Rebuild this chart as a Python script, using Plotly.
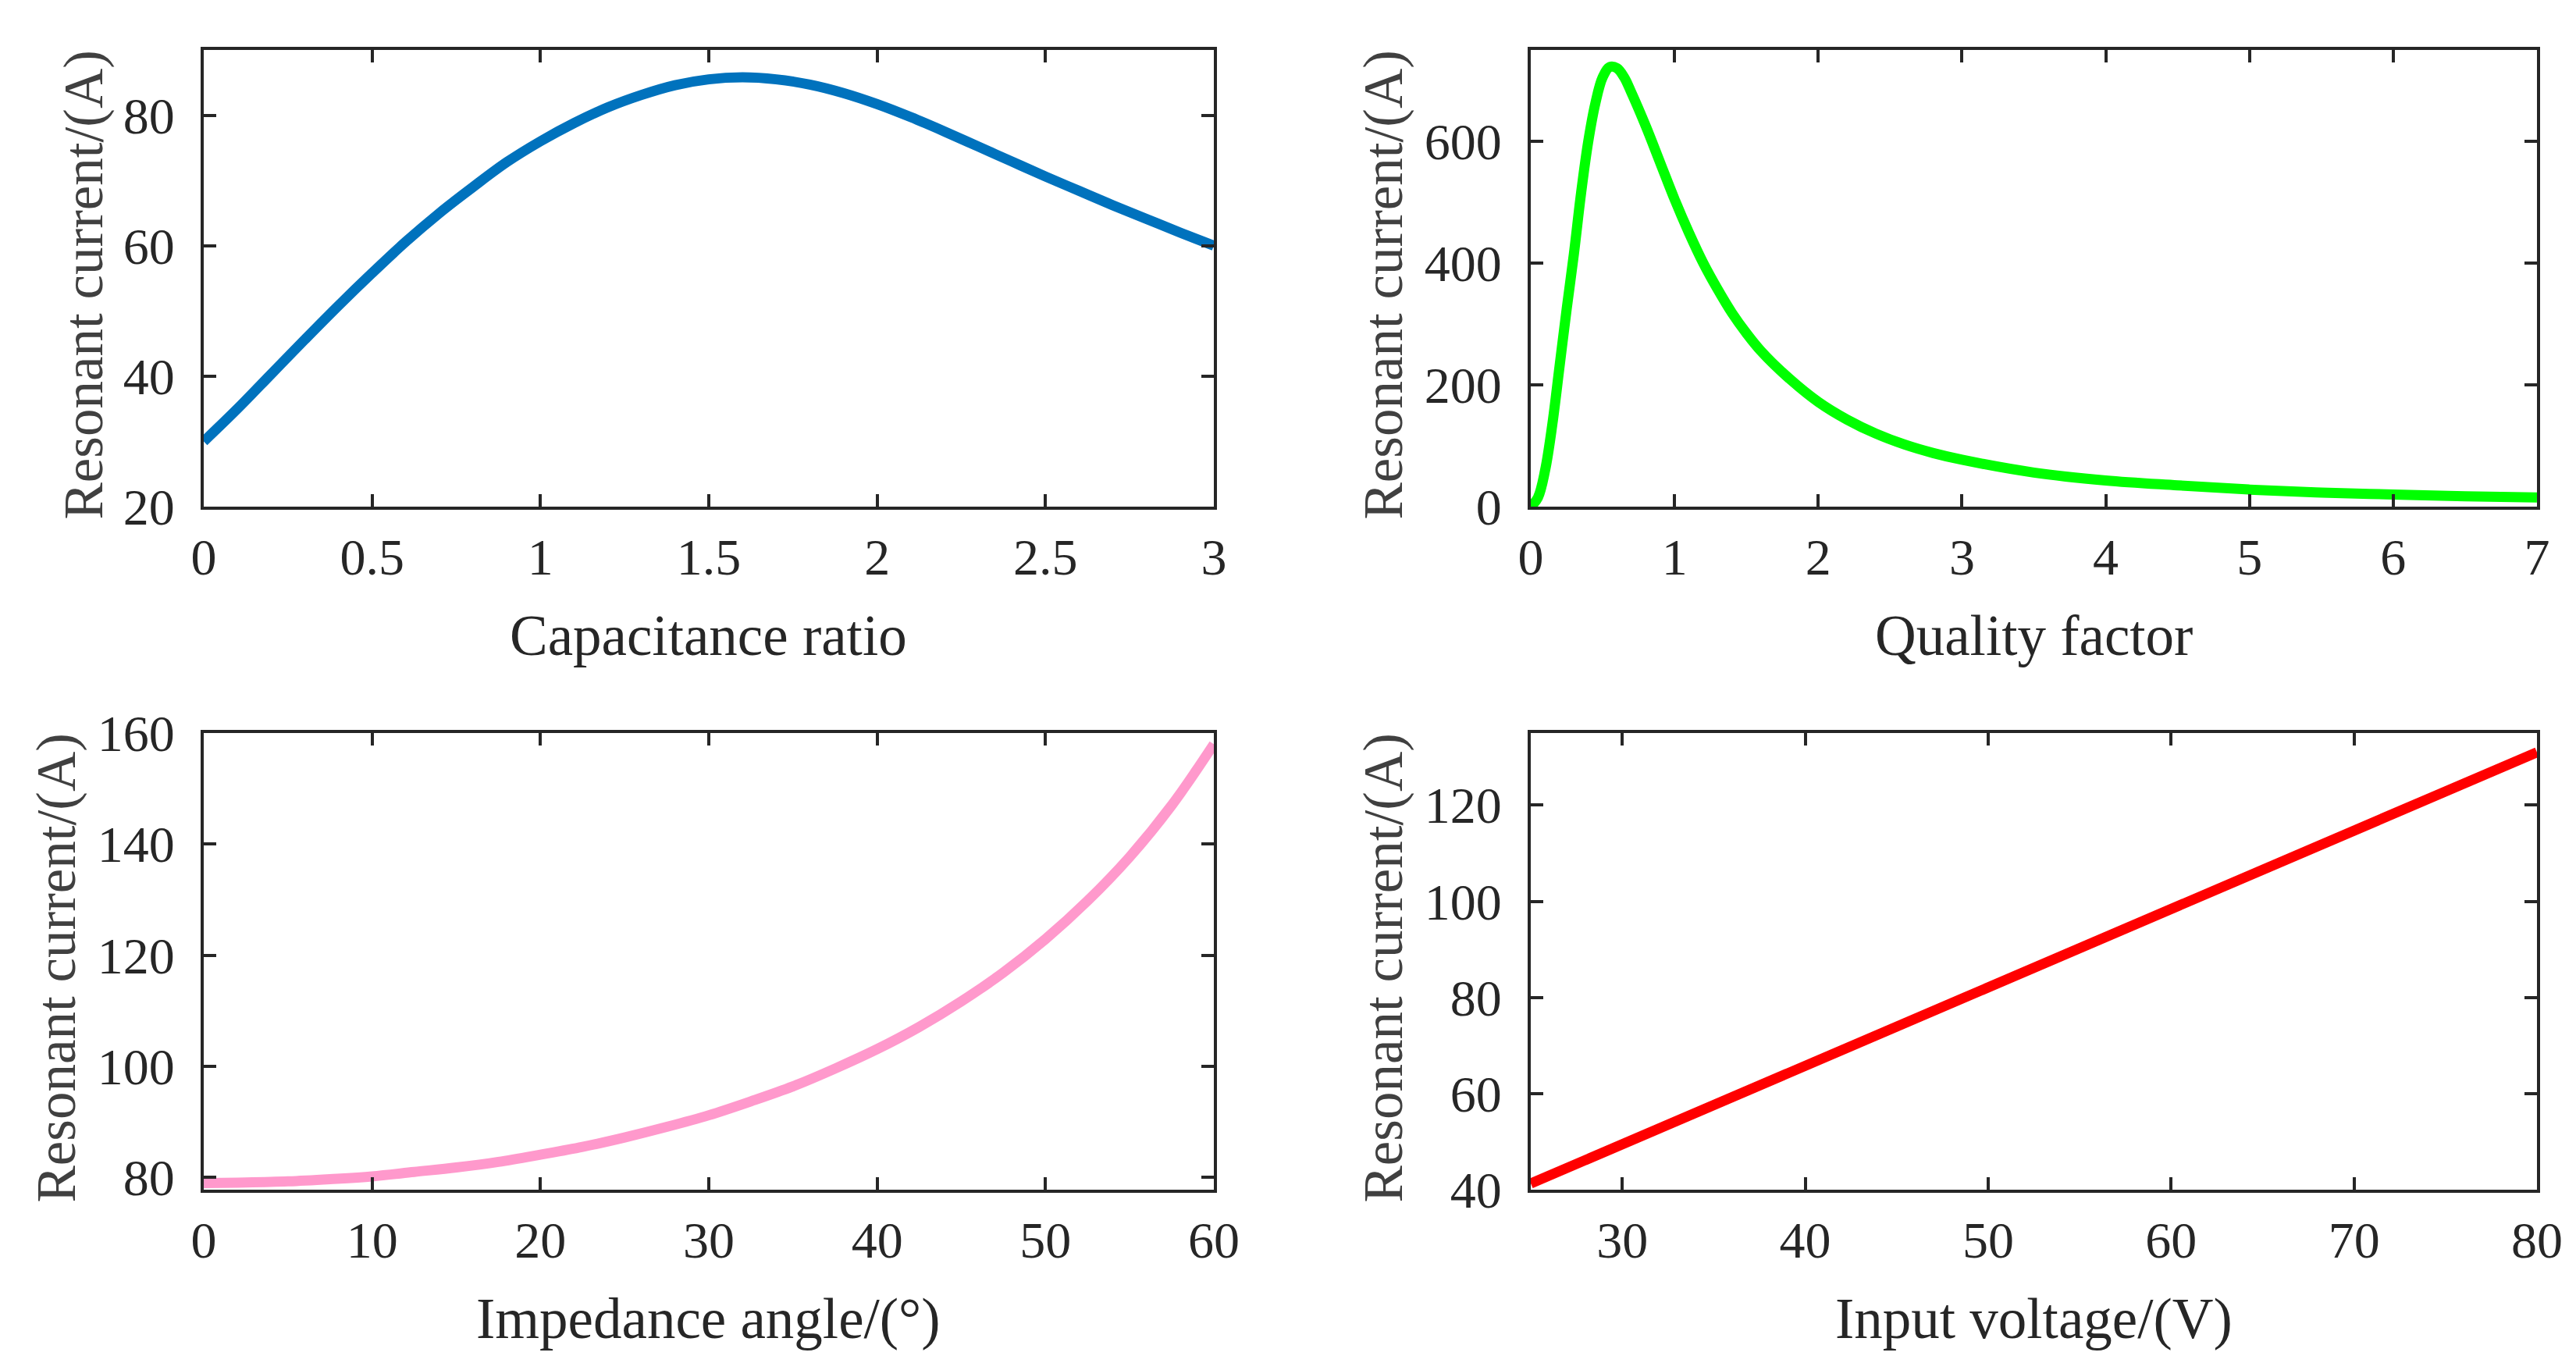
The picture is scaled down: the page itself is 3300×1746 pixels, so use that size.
import plotly.graph_objects as go
from plotly.subplots import make_subplots

# ▶ data
cap_ratio = [0.0, 0.1, 0.2, 0.3, 0.4, 0.5, 0.6, 0.7, 0.8, 0.9, 1.0,
             1.1, 1.2, 1.3, 1.4, 1.5, 1.6, 1.7, 1.8, 1.9, 2.0,
             2.1, 2.2, 2.3, 2.4, 2.5, 2.6, 2.7, 2.8, 2.9, 3.0]
current_cap = [30.0, 35.0, 40.3, 45.6, 50.8, 55.8, 60.6, 65.0, 69.0, 72.8, 76.0,
               78.8, 81.2, 83.1, 84.6, 85.5, 85.8, 85.5, 84.7, 83.4, 81.7,
               79.7, 77.5, 75.2, 72.9, 70.6, 68.4, 66.2, 64.1, 62.0, 60.0]

quality = [0, 0.05, 0.1, 0.15, 0.2, 0.25, 0.3, 0.35, 0.4, 0.45, 0.5, 0.55,
           0.6, 0.65, 0.7, 0.8, 0.9, 1.0, 1.1, 1.2, 1.3, 1.4, 1.5, 1.6,
           1.8, 2.0, 2.2, 2.4, 2.6, 2.8, 3.0, 3.5, 4.0, 4.5, 5.0, 5.5,
           6.0, 6.5, 7.0]
current_q = [0, 15, 60, 135, 230, 325, 415, 515, 600, 663, 705, 722,
             720, 705, 680, 625, 565, 505, 450, 400, 357, 318, 285, 256,
             210, 172, 143, 120, 102, 88, 77, 56, 43, 35, 28, 23,
             20, 17, 15]

angle = [0, 2.5, 5, 7.5, 10, 12.5, 15, 17.5, 20, 22.5, 25, 27.5, 30,
         32.5, 35, 37.5, 40, 42.5, 45, 47.5, 50, 52.5, 55, 57.5, 60]
current_angle = [79.0, 79.1, 79.3, 79.7, 80.2, 81.0, 81.8, 82.8, 84.1, 85.5,
                 87.2, 89.1, 91.2, 93.7, 96.4, 99.6, 103.1, 107.1, 111.7,
                 116.9, 122.9, 129.8, 137.7, 147.0, 158.0]

voltage = [25, 30, 40, 50, 60, 70, 80]
current_v = [41.3, 49.5, 65.8, 82.1, 98.4, 114.7, 131.0]

W, H = 3300, 1746
FONT = "Liberation Serif, Times New Roman, serif"
AX = "#262626"

fig = make_subplots(rows=2, cols=2)

fig.add_trace(go.Scatter(x=cap_ratio, y=current_cap, mode="lines",
                         line=dict(color="#0072BD", width=13, shape="spline")), row=1, col=1)
fig.add_trace(go.Scatter(x=quality, y=current_q, mode="lines",
                         line=dict(color="#00FF00", width=13, shape="spline")), row=1, col=2)
fig.add_trace(go.Scatter(x=angle, y=current_angle, mode="lines",
                         line=dict(color="#FF99CC", width=13, shape="spline")), row=2, col=1)
fig.add_trace(go.Scatter(x=voltage, y=current_v, mode="lines",
                         line=dict(color="#FF0000", width=13)), row=2, col=2)

# panel boxes in pixels: (left, right, top, bottom)
boxes = [(253, 1547, 56, 641), (1953, 3242, 56, 641),
         (253, 1547, 931, 1516), (1953, 3242, 931, 1516)]
ytitle_gap = [154, 189, 189, 189]
xr = [[0, 3], [0, 7], [0, 60], [25, 80]]
yr = [[20, 90], [0, 750], [77.8, 160], [40, 135]]
xt = [[0, 0.5, 1, 1.5, 2, 2.5, 3], list(range(0, 8)), list(range(0, 61, 10)), list(range(30, 81, 10))]
yt = [[20, 40, 60, 80], [0, 200, 400, 600], list(range(80, 161, 20)), list(range(40, 121, 20))]
xtitles = ["Capacitance ratio", "Quality factor", "Impedance angle/(°)", "Input voltage/(V)"]

axis_style = dict(showline=True, mirror="ticks", linecolor=AX, linewidth=4,
                  ticks="inside", ticklen=16, tickwidth=4, tickcolor=AX,
                  showgrid=False, zeroline=False, automargin=False,
                  tickfont=dict(family=FONT, size=66, color=AX))

for i, (l, r, t, b) in enumerate(boxes):
    n = "" if i == 0 else str(i + 1)
    fig.layout["xaxis" + n].update(domain=[l / W, r / W], range=xr[i], tickvals=xt[i],
                                   ticklabelstandoff=4, **axis_style)
    fig.layout["yaxis" + n].update(domain=[1 - b / H, 1 - t / H], range=yr[i], tickvals=yt[i],
                                   ticklabelstandoff=20, **axis_style)
    fig.add_annotation(text=xtitles[i], xref="paper", yref="paper",
                       x=(l + r) / 2 / W, y=1 - (b + 165) / H,
                       showarrow=False, xanchor="center", yanchor="middle",
                       font=dict(family=FONT, size=73, color=AX))
    fig.add_annotation(text="Resonant current/(A)", xref="paper", yref="paper",
                       x=(l - ytitle_gap[i]) / W, y=1 - ((t + b) / 2 + 9) / H, textangle=-90,
                       showarrow=False, xanchor="center", yanchor="middle",
                       font=dict(family=FONT, size=71, color="#404040"))

fig.update_layout(width=W, height=H, margin=dict(l=0, r=0, t=0, b=0),
                  plot_bgcolor="white", paper_bgcolor="white", showlegend=False)

fig.write_html("out.html")
